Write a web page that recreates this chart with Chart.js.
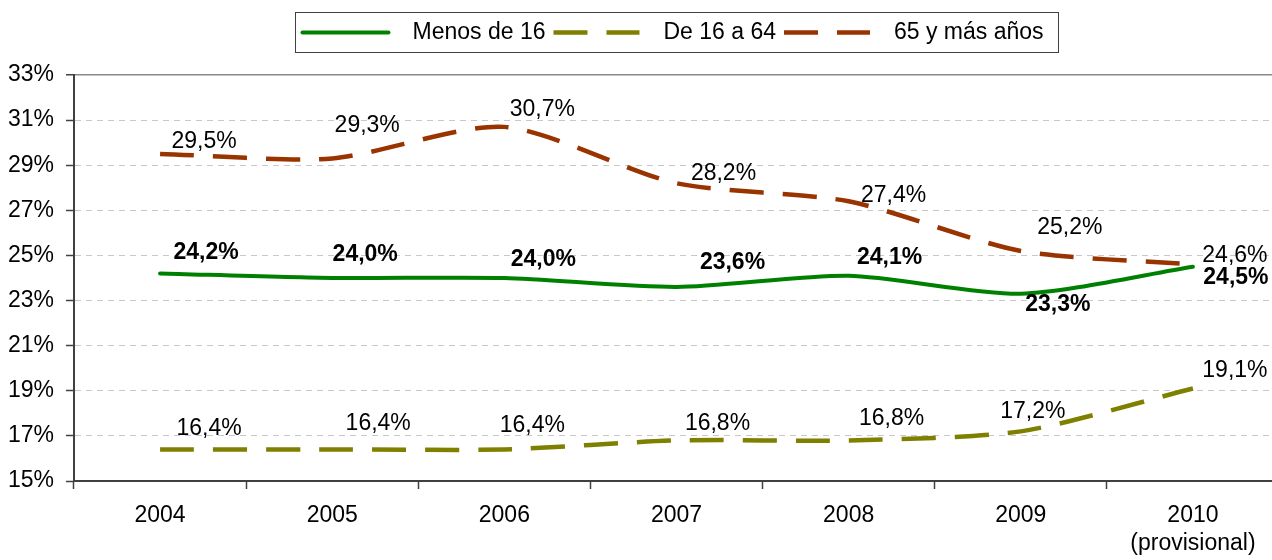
<!DOCTYPE html>
<html>
<head>
<meta charset="utf-8">
<title>Tasa de riesgo de pobreza por edad</title>
<script src="https://cdn.jsdelivr.net/npm/chart.js@4"></script>
<style>
  html, body { margin: 0; padding: 0; background: #fff; overflow: hidden; }
  .wrap { position: relative; width: 1280px; height: 560px; }
</style>
</head>
<body>
<div class="wrap"><canvas id="riskChart"></canvas></div>
<script>
// data
const years = ['2004', '2005', '2006', '2007', '2008', '2009', ['2010', '(provisional)']];
const under16 = [24.2, 24.0, 24.0, 23.6, 24.1, 23.3, 24.5];
const age16to64 = [16.4, 16.4, 16.4, 16.8, 16.8, 17.2, 19.1];
const over65 = [29.5, 29.3, 30.7, 28.2, 27.4, 25.2, 24.6];
const yTickValues = [15, 17, 19, 21, 23, 25, 27, 29, 31, 33];

// where each value label sits relative to its point (px)
const under16LabelPos = [[46, -21], [33, -23], [39, -18], [56, -24], [41, -18], [37, 11], [43, 11]];
const age16to64LabelPos = [[49, -21], [46, -26], [28, -24], [41, -17], [43, -22], [12, -20], [42, -18]];
const over65LabelPos = [[44, -12], [35, -33], [38, -17], [47, -10], [45, -6], [49, -23], [42, -9]];

const FONT = '"Liberation Sans", Arial, sans-serif';
Chart.defaults.font.family = FONT;
Chart.defaults.color = '#000';

function pct(v) {
    return v.toFixed(1).replace('.', ',') + '%';
}

const valueLabels = {
    id: 'valueLabels',
    afterDatasetsDraw(chart) {
        const ctx = chart.ctx;
        ctx.save();
        ctx.fillStyle = '#000';
        ctx.textAlign = 'center';
        ctx.textBaseline = 'middle';
        chart.data.datasets.forEach((ds, i) => {
            const meta = chart.getDatasetMeta(i);
            ctx.font = (ds.labelBold ? 'bold ' : '') + '23px ' + FONT;
            meta.data.forEach((pt, j) => {
                const off = ds.labelPos[j];
                ctx.fillText(pct(ds.data[j]), pt.x + off[0], pt.y + off[1]);
            });
        });
        ctx.restore();
    }
};

const boxLegend = {
    id: 'boxLegend',
    afterDraw(chart) {
        const ctx = chart.ctx;
        const area = chart.chartArea;
        const sample = 86, gapText = 24, gapItem = 8, padL = 7, padR = 15;
        ctx.save();
        ctx.font = '23px ' + FONT;
        const items = chart.data.datasets.map(ds => ({ ds: ds, w: ctx.measureText(ds.label).width }));
        let total = padL + padR + gapItem * (items.length - 1);
        items.forEach(it => { total += sample + gapText + it.w; });
        const left = Math.round((area.left + area.right) / 2 - total / 2) + 0.5;
        const top = 12.5, h = 40;
        ctx.strokeStyle = '#404040';
        ctx.lineWidth = 1;
        ctx.strokeRect(left, top, Math.round(total), h);

        let x = left + padL;
        const y = top + h / 2;
        items.forEach(it => {
            ctx.beginPath();
            ctx.setLineDash(it.ds.borderDash || []);
            ctx.lineCap = it.ds.borderCapStyle || 'butt';
            ctx.lineWidth = it.ds.borderWidth;
            ctx.strokeStyle = it.ds.borderColor;
            ctx.moveTo(x, y);
            ctx.lineTo(x + sample, y);
            ctx.stroke();
            ctx.setLineDash([]);
            ctx.fillStyle = '#000';
            ctx.textAlign = 'left';
            ctx.textBaseline = 'middle';
            ctx.fillText(it.ds.label, x + sample + gapText, y);
            x += sample + gapText + it.w + gapItem;
        });
        ctx.restore();
    }
};

const ctx = document.getElementById('riskChart').getContext('2d');
const riskChart = new Chart(ctx, {
    type: 'line',
    data: {
        labels: years,
        datasets: [{
            label: 'Menos de 16',
            data: under16,
            borderColor: '#008000',
            borderWidth: 4,
            borderCapStyle: 'round',
            borderJoinStyle: 'round',
            labelBold: true,
            labelPos: under16LabelPos
        }, {
            label: 'De 16 a 64',
            data: age16to64,
            borderColor: '#808000',
            borderWidth: 4.5,
            borderDash: [34, 19],
            borderCapStyle: 'butt',
            labelPos: age16to64LabelPos
        }, {
            label: '65 y más años',
            data: over65,
            borderColor: '#993300',
            borderWidth: 4.5,
            borderDash: [34, 19],
            borderCapStyle: 'butt',
            labelPos: over65LabelPos
        }]
    },
    options: {
        responsive: true,
        maintainAspectRatio: false,
        animation: false,
        layout: {
            padding: { top: 75, right: 1, left: 0, bottom: 0 }
        },
        plugins: {
            legend: { display: false },
            tooltip: { enabled: false }
        },
        elements: {
            point: { radius: 0, hoverRadius: 0 },
            line: { tension: 0.25, fill: false }
        },
        scales: {
            x: {
                offset: true,
                grid: {
                    offset: true,
                    drawOnChartArea: false,
                    drawTicks: true,
                    tickLength: 8,
                    tickColor: '#404040',
                    tickWidth: 1.5
                },
                border: { color: '#404040', width: 2 },
                ticks: {
                    color: '#000',
                    font: { size: 23 },
                    padding: 13,
                    maxRotation: 0,
                    autoSkip: false
                },
                afterFit: function(scale) {
                    scale.height = 79;
                }
            },
            y: {
                min: 15,
                max: 33,
                afterBuildTicks: function(scale) {
                    scale.ticks = yTickValues.map(v => ({ value: v }));
                },
                grid: {
                    color: c => (c.tick && c.tick.value === 33) ? '#888888' : '#c8c8c8',
                    lineWidth: c => (c.tick && c.tick.value === 33) ? 1.5 : 1,
                    tickColor: '#404040',
                    tickLength: 8,
                    tickWidth: 1.5,
                    tickBorderDash: []
                },
                border: {
                    color: '#404040',
                    width: 2,
                    dash: c => (c.tick && c.tick.value !== 33) ? [6, 5] : []
                },
                ticks: {
                    color: '#000',
                    font: { size: 23 },
                    padding: 12,
                    callback: function(value) {
                        return value + '%';
                    }
                },
                afterFit: function(scale) {
                    scale.width = 74;
                }
            }
        }
    },
    plugins: [valueLabels, boxLegend]
});
</script>
</body>
</html>
